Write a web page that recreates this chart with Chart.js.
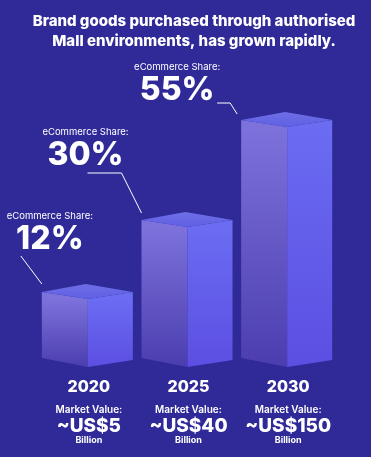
<!doctype html>
<html>

<head>
    <title>Brand goods eCommerce share</title>
    <script src="https://cdn.jsdelivr.net/npm/chart.js@4.4.0/dist/chart.umd.min.js"></script>
    <style>
    html, body { margin: 0; padding: 0; background: #302a98; }
    #wrap { width: 371px; height: 457px; }
    </style>
</head>

<body>
    <div id="wrap">
        <canvas id="myChart" width="371" height="457"></canvas>
    </div>
    <script>
    var years = ["2020", "2025", "2030"];
    var sharePct = [12, 30, 55];
    var marketValue = ["~US$5", "~US$40", "~US$150"];
    var titleLines = ["Brand goods purchased through authorised", "Mall environments, has grown rapidly."];

    var FONT = "Inter, 'Noto Sans', sans-serif";

    // where the callout text + leader sits, relative to the front-top corner of each box
    var calloutLayout = [
        { dx: -38, pctDy: -60, lblDy: -83, leader: [[-67, -43], [-46, -15]] },
        { dx: -102, pctDy: -72, lblDy: -95, leader: [[-100, -54], [-66, -54], [-46, -14]] },
        { dx: -110, pctDy: -37, lblDy: -60, leader: [[-70, -24], [-57, -24], [-50, -13]] }
    ];

    function vGrad(ctx, y0, y1, c0, c1) {
        var g = ctx.createLinearGradient(0, y0, 0, y1);
        g.addColorStop(0, c0);
        g.addColorStop(1, c1);
        return g;
    }

    function poly(ctx, pts, fill) {
        ctx.beginPath();
        ctx.moveTo(pts[0][0], pts[0][1]);
        for (var i = 1; i < pts.length; i++) ctx.lineTo(pts[i][0], pts[i][1]);
        ctx.closePath();
        ctx.fillStyle = fill;
        ctx.fill();
    }

    var boxPlugin = {
        id: 'boxes',
        afterDatasetsDraw: function(chart) {
            var ctx = chart.ctx;
            var meta = chart.getDatasetMeta(0);
            ctx.save();

            // title
            ctx.fillStyle = '#ffffff';
            ctx.textAlign = 'center';
            ctx.textBaseline = 'middle';
            ctx.font = "800 15px " + FONT;
            ctx.fillText(titleLines[0], 194, 21);
            ctx.fillText(titleLines[1], 194, 41);

            meta.data.forEach(function(bar, i) {
                var p = bar.getProps(['x', 'y', 'base', 'width'], true);
                var x = p.x, y = p.y, b = p.base;
                var lw = 46, rw = 45;

                // left face
                poly(ctx, [[x - lw, y - 7], [x, y], [x, b], [x - lw, b - 9]],
                    vGrad(ctx, y, b, '#7d72dc', '#4b3dae'));
                // right face
                poly(ctx, [[x, y], [x + rw, y - 7], [x + rw, b - 7], [x, b]],
                    vGrad(ctx, y, b, '#6a6cf2', '#5c4ee2'));
                // top face
                poly(ctx, [[x, y], [x - lw, y - 7], [x - 2, y - 15], [x + rw, y - 7]],
                    vGrad(ctx, y - 15, y, '#6e6ee6', '#5f60e4'));

                // callout
                var c = calloutLayout[i];
                ctx.fillStyle = '#ffffff';
                ctx.textAlign = 'center';
                ctx.textBaseline = 'middle';
                ctx.font = "9.5px " + FONT;
                ctx.fillText("eCommerce Share:", x + c.dx, y + c.lblDy);
                ctx.font = "800 32px " + FONT;
                ctx.fillText(sharePct[i] + "%", x + c.dx, y + c.pctDy);

                ctx.strokeStyle = '#ffffff';
                ctx.lineWidth = 1;
                ctx.beginPath();
                c.leader.forEach(function(pt, k) {
                    if (k == 0) ctx.moveTo(x + pt[0], y + pt[1]);
                    else ctx.lineTo(x + pt[0], y + pt[1]);
                });
                ctx.stroke();

                // labels under the box
                var area = chart.chartArea;
                ctx.font = "800 16px " + FONT;
                ctx.fillText(years[i], x + 1, area.bottom + 20);
                ctx.font = "600 10px " + FONT;
                ctx.fillText("Market Value:", x + 1, area.bottom + 43);
                ctx.font = "800 19px " + FONT;
                ctx.fillText(marketValue[i], x + 1, area.bottom + 59);
                ctx.font = "bold 9px " + FONT;
                ctx.fillText("Billion", x + 1, area.bottom + 73);
            });
            ctx.restore();
        }
    };

    function drawGraph() {
        var ctx = document.getElementById('myChart').getContext('2d');
        var chart = new Chart(ctx, {
            type: 'bar',
            data: {
                labels: years,
                datasets: [{
                    label: "eCommerce Share",
                    data: sharePct,
                    base: -5,
                    backgroundColor: 'rgba(0,0,0,0)',
                    barThickness: 91
                }]
            },
            options: {
                responsive: false,
                animation: false,
                layout: { padding: { top: 107, bottom: 90, left: 38, right: 34 } },
                plugins: { legend: { display: false }, tooltip: { enabled: false } },
                scales: {
                    x: { display: false },
                    y: { display: false, min: -5, max: 60 }
                }
            },
            plugins: [boxPlugin]
        });
    }

    window.onload = function() {
        drawGraph();
    };
    </script>
</body>

</html>
